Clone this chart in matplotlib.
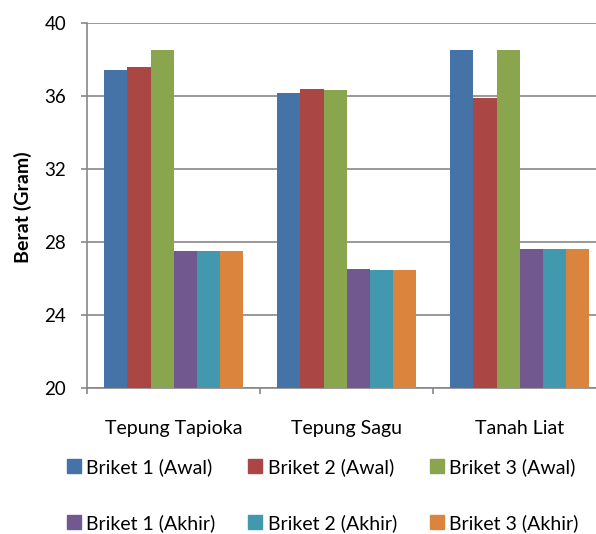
import numpy as np
import matplotlib
matplotlib.use("Agg")
from matplotlib import pyplot as plt
from matplotlib.patches import Patch

plt.rcParams['font.family'] = ['Lato', 'DejaVu Sans']

categories = ["Tepung Tapioka", "Tepung Sagu", "Tanah Liat"]
series_names = ["Briket 1 (Awal)", "Briket 2 (Awal)", "Briket 3 (Awal)",
                "Briket 1 (Akhir)", "Briket 2 (Akhir)", "Briket 3 (Akhir)"]
briket1_awal = [37.4, 36.15, 38.5]
briket2_awal = [37.6, 36.4, 35.9]
briket3_awal = [38.5, 36.3, 38.5]
briket1_akhir = [27.5, 26.5, 27.6]
briket2_akhir = [27.5, 26.45, 27.6]
briket3_akhir = [27.5, 26.45, 27.6]
y_ticks = [20, 24, 28, 32, 36, 40]

colors = ["#4572A7", "#AA4643", "#89A54E", "#71588F", "#4198AF", "#DB843D"]
series = [briket1_awal, briket2_awal, briket3_awal,
          briket1_akhir, briket2_akhir, briket3_akhir]

fig = plt.figure(figsize=(5.96, 5.34), dpi=100)
ax = fig.add_axes([87.3 / 596, 145.7 / 534, 519 / 596, 365.6 / 534])

x = np.arange(len(categories))
bar_w = 0.134
for i, (vals, c) in enumerate(zip(series, colors)):
    offs = (i - 2.5) * bar_w
    ax.bar(x + offs, np.array(vals) - 20, bottom=20, width=bar_w, color=c,
           label=series_names[i], zorder=3)

grid_col = "#878787"
ax.set_ylim(20, 40)
ax.set_yticks(y_ticks)
ax.set_xlim(-0.5, 2.5)
ax.set_xticks(x)
ax.set_xticklabels(categories, fontsize=14)
ax.set_xticks([-0.5, 0.5, 1.5, 2.5], minor=True)
ax.tick_params(axis="x", which="major", length=0, pad=23)
ax.tick_params(axis="x", which="minor", length=4.3, width=1.2, color=grid_col)
ax.tick_params(axis="y", length=4.3, width=1.2, color=grid_col, labelsize=13.5, pad=11)
ax.yaxis.grid(True, color=grid_col, linewidth=1.2, zorder=0)
ax.set_axisbelow(True)
for s in ["top", "right"]:
    ax.spines[s].set_visible(False)
for s in ["left", "bottom"]:
    ax.spines[s].set_color(grid_col)
    ax.spines[s].set_linewidth(1.2)

fig.text(22.7 / 596, 1 - 206.7 / 534, "Berat (Gram)", rotation=90, fontsize=14,
         fontweight="bold", ha="center", va="center")

# legend rows: Awal on top, Akhir below (matplotlib fills columns first)
order = [0, 3, 1, 4, 2, 5]
handles = [Patch(color=colors[i]) for i in order]
labels = [series_names[i] for i in order]
fig.legend(handles, labels, ncol=3, loc="upper left",
           bbox_to_anchor=(67 / 596, 1 - 458 / 534), frameon=False,
           fontsize=14, handlelength=0.72, handleheight=0.72,
           handletextpad=0.28, columnspacing=1.68, labelspacing=1.96,
           borderaxespad=0, borderpad=0)

fig.savefig("out.png", dpi=100)
